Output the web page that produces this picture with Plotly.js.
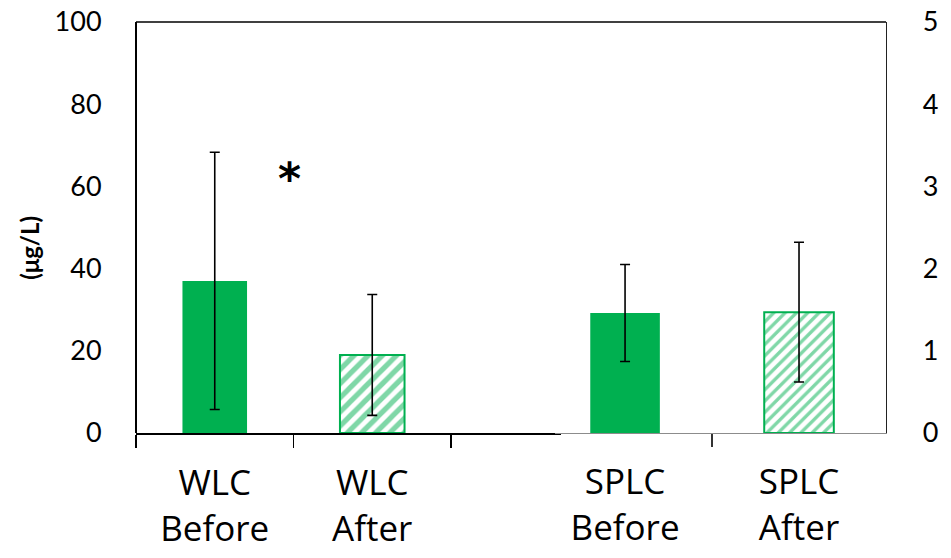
<!DOCTYPE html>
<html>
<head>
<meta charset="utf-8">
<script src="https://cdn.plot.ly/plotly-3.0.1.min.js"></script>
<style>html,body{margin:0;padding:0;background:#fff;}#chart{width:951px;height:558px;}</style>
</head>
<body>
<div id="chart"></div>
<script>
// Left chart (left axis, µg/L)
var wlcCategories = ["WLC<br>Before", "WLC<br>After", " "];
var wlcBefore = [37.0];
var wlcBeforeErr = [31.3];
var wlcAfter = [19.0];
var wlcAfterErr = [14.7];

// Right chart (right axis)
var splcCategories = ["SPLC<br>Before", "SPLC<br>After"];
var splcBefore = [1.46];
var splcBeforeErr = [0.59];
var splcAfter = [1.47];
var splcAfterErr = [0.85];

var leftTicks = [0, 20, 40, 60, 80, 100];
var rightTicks = [0, 1, 2, 3, 4, 5];

var GREEN = "#00B050";
var FONT = "Lato, 'Open Sans', sans-serif";
var XFONT = "'Open Sans', Lato, sans-serif";

function solidBar(x, y, err, xa, ya, w) {
  return {
    type: "bar", x: x, y: y, xaxis: xa, yaxis: ya, width: w,
    marker: {color: GREEN, line: {color: GREEN, width: 0}},
    error_y: {type: "data", array: err, visible: true, color: "#000", thickness: 1.6, width: 5},
    showlegend: false, hoverinfo: "skip"
  };
}
function hatchBar(x, y, err, xa, ya, w, size, solidity) {
  return {
    type: "bar", x: x, y: y, xaxis: xa, yaxis: ya, width: w,
    marker: {color: "#ffffff", line: {color: GREEN, width: 2},
      pattern: {shape: "/", fgcolor: GREEN, bgcolor: "#ffffff", size: size, solidity: solidity, fillmode: "overlay"}},
    error_y: {type: "data", array: err, visible: true, color: "#000", thickness: 1.6, width: 5},
    showlegend: false, hoverinfo: "skip"
  };
}

var data = [
  solidBar([wlcCategories[0]], wlcBefore, wlcBeforeErr, "x", "y", 0.41),
  hatchBar([wlcCategories[1]], wlcAfter, wlcAfterErr, "x", "y", 0.41, 10, 0.52),
  solidBar([splcCategories[0]], splcBefore, splcBeforeErr, "x2", "y2", 0.40),
  hatchBar([splcCategories[1]], splcAfter, splcAfterErr, "x2", "y2", 0.40, 8, 0.42)
];

var yTickFont = {family: FONT, size: 27, color: "#000"};
var xTickFont = {family: XFONT, size: 35, color: "#000"};

var layout = {
  width: 951, height: 558,
  margin: {l: 136, r: 65, t: 22, b: 125},
  paper_bgcolor: "#fff", plot_bgcolor: "rgba(0,0,0,0)",
  barmode: "overlay",
  xaxis: {
    domain: [0, 0.567], range: [-0.5, 2.2], type: "category",
    categoryorder: "array", categoryarray: wlcCategories,
    tickson: "boundaries", ticks: "outside", ticklen: 13, tickwidth: 1.6, tickcolor: "#000",
    showline: true, linecolor: "#000", linewidth: 2.2,
    showgrid: false, zeroline: false, tickfont: xTickFont, ticklabelstandoff: 18, anchor: "y",
    fixedrange: true
  },
  xaxis2: {
    domain: [0.5593, 1], range: [-0.4, 1.5], type: "category",
    categoryorder: "array", categoryarray: splcCategories,
    tickson: "boundaries", ticks: "outside", ticklen: 13, tickwidth: 1.2, tickcolor: "#333",
    showline: true, linecolor: "#8c8c8c", linewidth: 1.4,
    showgrid: false, zeroline: false, tickfont: xTickFont, ticklabelstandoff: 18, anchor: "y2",
    fixedrange: true
  },
  yaxis: {
    range: [0, 100], tickvals: leftTicks, ticktext: leftTicks.map(String),
    showline: true, linecolor: "#000", linewidth: 2, ticks: "",
    showgrid: false, zeroline: false, tickfont: yTickFont, ticklabelstandoff: 28,
    anchor: "free", position: 0, fixedrange: true
  },
  yaxis2: {
    range: [0, 5], tickvals: rightTicks, ticktext: rightTicks.map(String),
    overlaying: "y", side: "right", anchor: "x2",
    showline: true, linecolor: "#222", linewidth: 1.3, ticks: "",
    showgrid: false, zeroline: false, tickfont: yTickFont, ticklabelstandoff: 30,
    fixedrange: true
  },
  shapes: [
    {type: "line", xref: "paper", yref: "paper", x0: 0, x1: 1, y0: 1, y1: 1,
     line: {color: "#000", width: 1.6}}
  ],
  annotations: [
    {text: "<b>(μg/L)</b>", textangle: -90, xref: "paper", yref: "paper",
     x: -0.143, y: 0.45, xanchor: "center", yanchor: "middle", showarrow: false,
     font: {family: FONT, size: 24, color: "#000"}},
    {text: "<b>*</b>", xref: "paper", yref: "y", x: 0.205, y: 62,
     xanchor: "center", yanchor: "middle", showarrow: false,
     font: {family: "DejaVu Sans, sans-serif", size: 44, color: "#000"}}
  ]
};

Plotly.newPlot("chart", data, layout, {displayModeBar: false, staticPlot: true});
</script>
</body>
</html>
